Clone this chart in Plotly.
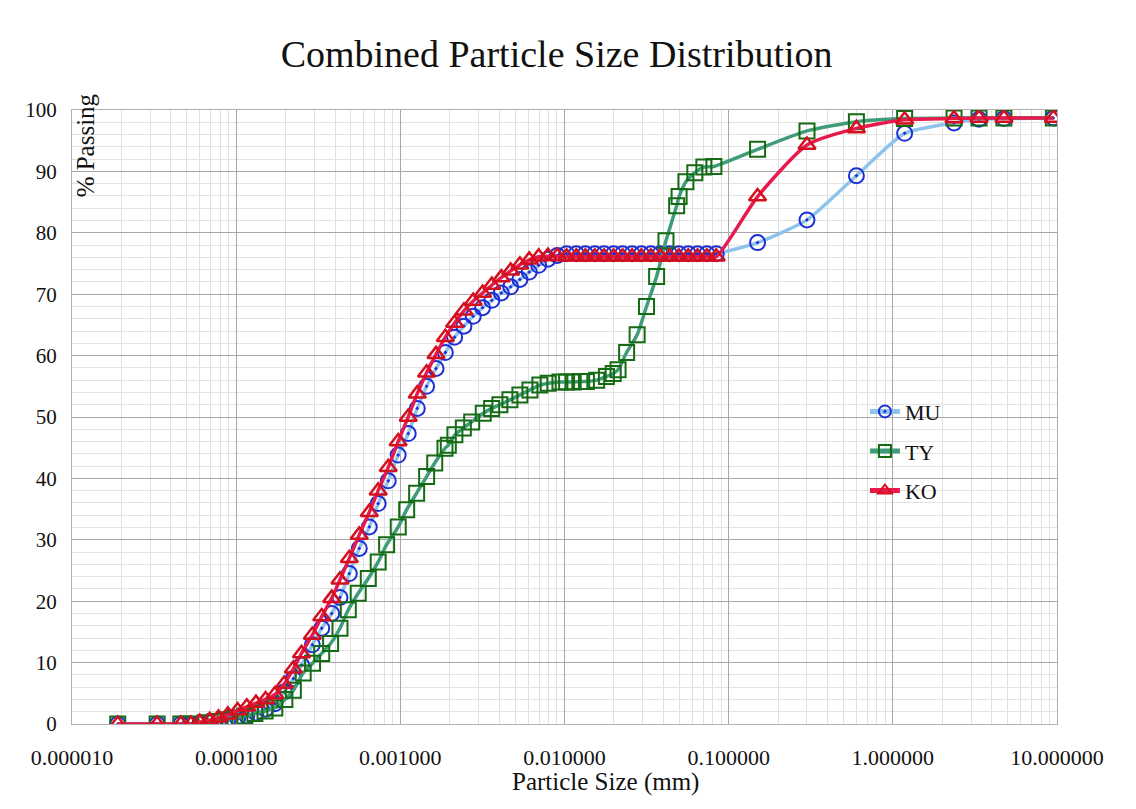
import plotly.graph_objects as go

# ---------------- data ----------------
mu_ko_size = [1.9e-5, 3.3e-5, 4.6e-5, 5.3e-5, 6.0e-5, 6.9e-5, 7.8e-5, 8.9e-5, 1.02e-4, 1.16e-4,
              1.32e-4, 1.51e-4, 1.72e-4, 1.96e-4, 2.23e-4, 2.50e-4, 2.91e-4, 3.32e-4, 3.82e-4, 4.29e-4,
              4.89e-4, 5.62e-4, 6.47e-4, 7.33e-4, 8.44e-4, 9.70e-4, 1.117e-3, 1.268e-3, 1.445e-3, 1.65e-3,
              1.88e-3, 2.14e-3, 2.44e-3, 2.78e-3, 3.17e-3, 3.61e-3, 4.12e-3, 4.70e-3, 5.35e-3, 6.10e-3,
              6.96e-3, 7.93e-3, 9.04e-3, 1.03e-2, 1.18e-2, 1.34e-2, 1.53e-2, 1.74e-2, 1.99e-2, 2.26e-2,
              2.58e-2, 2.94e-2, 3.36e-2, 3.83e-2, 4.36e-2, 4.97e-2, 5.67e-2, 6.46e-2, 7.37e-2, 8.40e-2,
              0.15, 0.30, 0.60, 1.18, 2.36, 3.35, 4.75, 9.5]

mu_passing = [0, 0, 0, 0, 0.1, 0.2, 0.4, 0.6, 0.9, 1.3,
              1.8, 2.4, 3.3, 5.2, 7.4, 9.6, 12.9, 15.6, 18.0, 20.6,
              24.5, 28.6, 32.1, 35.9, 39.6, 43.8, 47.3, 51.4, 55.0, 57.9,
              60.5, 63.0, 64.8, 66.4, 67.8, 69.0, 70.2, 71.2, 72.4, 73.6,
              74.7, 75.7, 76.3, 76.6, 76.6, 76.6, 76.6, 76.6, 76.6, 76.6,
              76.6, 76.6, 76.6, 76.6, 76.6, 76.6, 76.6, 76.6, 76.6, 76.6,
              78.4, 82.1, 89.3, 96.2, 97.9, 98.5, 98.6, 98.7]

ko_passing = [0, 0, 0, 0, 0.3, 0.6, 1.0, 1.5, 2.2, 2.8,
              3.4, 4.0, 4.8, 6.5, 9.0, 11.5, 14.5, 17.5, 20.5, 23.5,
              27.0, 30.8, 34.5, 38.0, 41.8, 46.0, 50.0, 53.8, 57.2, 60.2,
              63.0, 65.3, 67.3, 68.9, 70.2, 71.5, 72.7, 73.8, 74.8, 75.6,
              76.1, 76.2, 76.2, 76.1, 76.1, 76.1, 76.1, 76.1, 76.1, 76.1,
              76.1, 76.1, 76.1, 76.1, 76.1, 76.1, 76.1, 76.1, 76.1, 76.1,
              85.9, 94.3, 97.0, 98.4, 98.6, 98.7, 98.7, 98.7]

ty_size = [1.9e-5, 3.3e-5, 4.6e-5, 5.3e-5, 6.46e-5, 7.43e-5, 8.55e-5, 9.84e-5, 1.13e-4, 1.30e-4,
           1.50e-4, 1.72e-4, 1.98e-4, 2.23e-4, 2.56e-4, 2.92e-4, 3.32e-4, 3.76e-4, 4.29e-4, 4.82e-4,
           5.54e-4, 6.38e-4, 7.33e-4, 8.25e-4, 9.71e-4, 1.093e-3, 1.257e-3, 1.446e-3, 1.62e-3, 1.87e-3,
           1.96e-3, 2.15e-3, 2.42e-3, 2.72e-3, 3.20e-3, 3.60e-3, 4.04e-3, 4.65e-3, 5.35e-3, 6.16e-3,
           7.08e-3, 7.96e-3, 9.38e-3, 1.03e-2, 1.13e-2, 1.24e-2, 1.36e-2, 1.57e-2, 1.80e-2, 1.98e-2,
           2.12e-2, 2.39e-2, 2.77e-2, 3.16e-2, 3.64e-2, 4.15e-2, 4.82e-2, 4.99e-2, 5.49e-2, 6.22e-2,
           7.06e-2, 8.13e-2, 0.15, 0.30, 0.60, 1.18, 2.36, 3.35, 4.75, 9.5]

ty_passing = [0, 0, 0, 0, 0.2, 0.4, 0.7, 1.0, 1.3, 1.7,
              2.1, 2.6, 4.0, 5.5, 8.3, 9.9, 11.5, 13.1, 15.6, 18.6,
              21.3, 23.7, 26.4, 29.2, 32.1, 34.9, 37.6, 40.3, 42.5, 44.9,
              45.4, 47.1, 48.2, 49.2, 50.6, 51.4, 52.0, 52.8, 53.6, 54.4,
              55.2, 55.5, 55.7, 55.7, 55.7, 55.8, 55.8, 56.0, 56.6, 57.1,
              57.7, 60.5, 63.4, 68.0, 72.9, 78.7, 84.4, 85.9, 88.3, 89.8,
              90.7, 90.8, 93.6, 96.6, 98.1, 98.6, 98.7, 98.7, 98.7, 98.7]

x_tick_values = [1e-5, 1e-4, 1e-3, 1e-2, 1e-1, 1, 10]
x_tick_labels = ["0.000010", "0.000100", "0.001000", "0.010000", "0.100000", "1.000000", "10.000000"]
y_tick_values = [0, 10, 20, 30, 40, 50, 60, 70, 80, 90, 100]

# ---------------- figure ----------------
FONT = "Liberation Serif"
TXT = "#111111"

fig = go.Figure()
fig.add_trace(go.Scatter(
    x=mu_ko_size, y=mu_passing, name="MU", legendgroup="mu", mode="lines+markers",
    line=dict(color="#8EC3EC", width=3.5, shape="spline", smoothing=0.6),
    marker=dict(symbol="circle-open-dot", size=15, color="#1C2FD6", line=dict(width=2, color="#1C2FD6")),
))
fig.add_trace(go.Scatter(
    x=ty_size, y=ty_passing, name="TY", legendgroup="ty", mode="lines+markers",
    line=dict(color="#3E9C78", width=3.5, shape="spline", smoothing=0.6),
    marker=dict(symbol="square-open", size=15, color="#146B14", line=dict(width=2, color="#146B14")),
))
fig.add_trace(go.Scatter(
    x=mu_ko_size, y=ko_passing, name="KO", legendgroup="ko", mode="lines+markers",
    line=dict(color="#E8194C", width=3.5, shape="spline", smoothing=0.6),
    marker=dict(symbol="triangle-up-open", size=15, color="#D4101E", line=dict(width=2.5, color="#D4101E")),
))

fig.update_layout(
    width=1136, height=809,
    margin=dict(l=72, r=79, t=110, b=85),
    paper_bgcolor="white", plot_bgcolor="white",
    font=dict(family=FONT, color=TXT),
    title=dict(text="Combined Particle Size Distribution", x=0.49, xanchor="center",
               y=0.934, yanchor="middle", font=dict(family=FONT, size=38, color=TXT)),
    showlegend=True,
    legend=dict(x=0.805, y=0.543, xanchor="left", yanchor="top", bgcolor="rgba(0,0,0,0)",
                font=dict(family=FONT, size=22, color=TXT), tracegroupgap=8,
                itemsizing="constant"),
)

fig.update_xaxes(
    type="log", range=[-5, 1],
    tickvals=x_tick_values, ticktext=x_tick_labels,
    tickfont=dict(family=FONT, size=22, color=TXT),
    showgrid=True, gridcolor="#A8A8A8", gridwidth=1.3,
    minor=dict(showgrid=True, gridcolor="#E0E0E0", gridwidth=1, dtick="D1", ticks=""),
    showline=True, linecolor="#B0B0B0", mirror=True,
    ticks="", ticklen=0, zeroline=False, ticklabelstandoff=14,
)
fig.update_yaxes(
    range=[0, 100], tickvals=y_tick_values,
    tickfont=dict(family=FONT, size=21, color=TXT),
    showgrid=True, gridcolor="#A8A8A8", gridwidth=1.3,
    minor=dict(showgrid=True, gridcolor="#E2E2E2", gridwidth=1, dtick=2, ticks=""),
    showline=True, linecolor="#B0B0B0", mirror=True,
    ticks="", zeroline=False, ticklabelstandoff=10,
)

fig.add_annotation(text="% Passing", xref="paper", yref="paper", x=0.014, y=1.03,
                   xanchor="center", yanchor="top", textangle=-90, showarrow=False,
                   font=dict(family=FONT, size=25, color=TXT))
fig.add_annotation(text="Particle Size (mm)", xref="paper", yref="paper", x=0.542, y=-0.095,
                   xanchor="center", yanchor="middle", showarrow=False,
                   font=dict(family=FONT, size=25, color=TXT))

fig.write_html("out.html")
